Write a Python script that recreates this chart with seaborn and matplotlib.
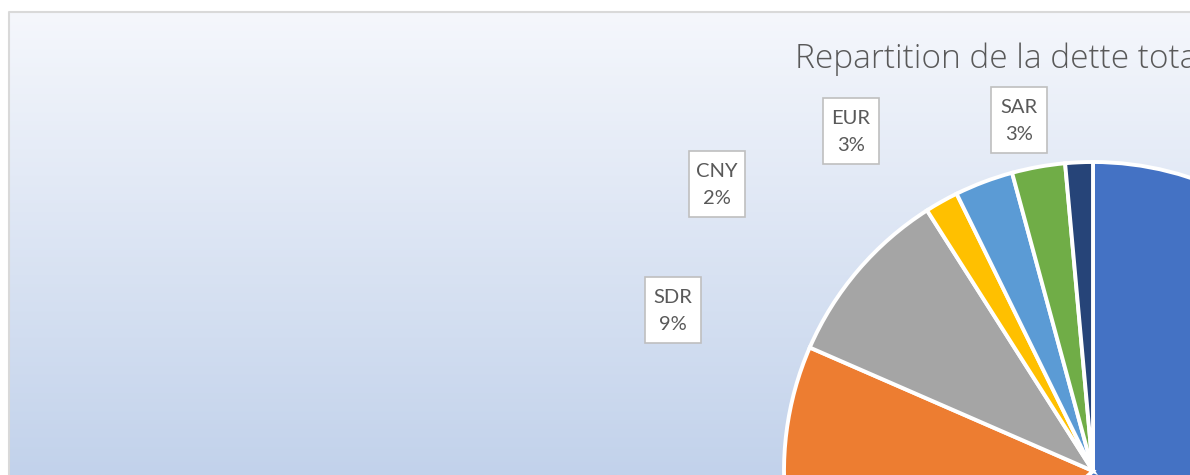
import numpy as np
import matplotlib.pyplot as plt
import seaborn as sns
from matplotlib.patches import Rectangle
from matplotlib.colors import LinearSegmentedColormap

# Data (share of total debt by currency, %)
devises = ['USD', 'KWD', 'SDR', 'CNY', 'EUR', 'SAR', 'Autres']
parts = [63.5, 18.1, 9.44, 1.75, 3.06, 2.78, 1.44]
couleurs = ['#4472C4', '#ED7D31', '#A5A5A5', '#FFC000', '#5B9BD5', '#70AD47', '#264478']
# label boxes visible in the frame (centre x, y in pixels from top)
etiquettes = {'SDR': (673, 310), 'CNY': (717, 184), 'EUR': (851, 131), 'SAR': (1019, 120)}

sns.set_theme(style='white')
plt.rcParams['font.family'] = ['Lato', 'DejaVu Sans']

W, H = 1190, 475
fig = plt.figure(figsize=(11.9, 4.75), dpi=100)
ax = fig.add_axes([0, 0, 1, 1])

# gradient chart background
grad = np.linspace(0, 1, 256).reshape(-1, 1)
cmap = LinearSegmentedColormap.from_list('bg', ['#f5f7fc', '#c2d2eb'])
ax.imshow(grad, cmap=cmap, extent=[9, W, 0, H - 12], aspect='auto', origin='upper', zorder=0)
ax.plot([9, 9, W], [0, H - 12, H - 12], color='#d9d9d9', lw=1.5, zorder=0.5)

# pie, starting at 12 o'clock, clockwise
ax.pie(parts, colors=couleurs, startangle=90, counterclock=False,
       center=(1093, H - 471), radius=309,
       wedgeprops=dict(edgecolor='white', linewidth=2.8))

total = sum(parts)
for nom, (cx, cy) in etiquettes.items():
    pct = parts[devises.index(nom)] / total * 100
    y = H - cy
    ax.add_patch(Rectangle((cx - 28, y - 33), 56, 66, facecolor='white',
                           edgecolor='#bfbfbf', lw=1.2, zorder=3))
    ax.text(cx, y - 1, f'{nom}\n{pct:.0f}%', ha='center', va='center', fontsize=14.5,
            color='#595959', linespacing=1.65, zorder=4)

# title (runs past the right edge, as in the original crop)
ax.text(795, H - 68, 'Repartition de la dette totale', fontsize=24,
        family=['Open Sans', 'DejaVu Sans'], fontweight='light',
        color='#595959', ha='left', va='baseline')

ax.set_xlim(0, W)
ax.set_ylim(0, H)
ax.set_aspect('auto')
ax.axis('off')

plt.savefig('out.png', dpi=100)
